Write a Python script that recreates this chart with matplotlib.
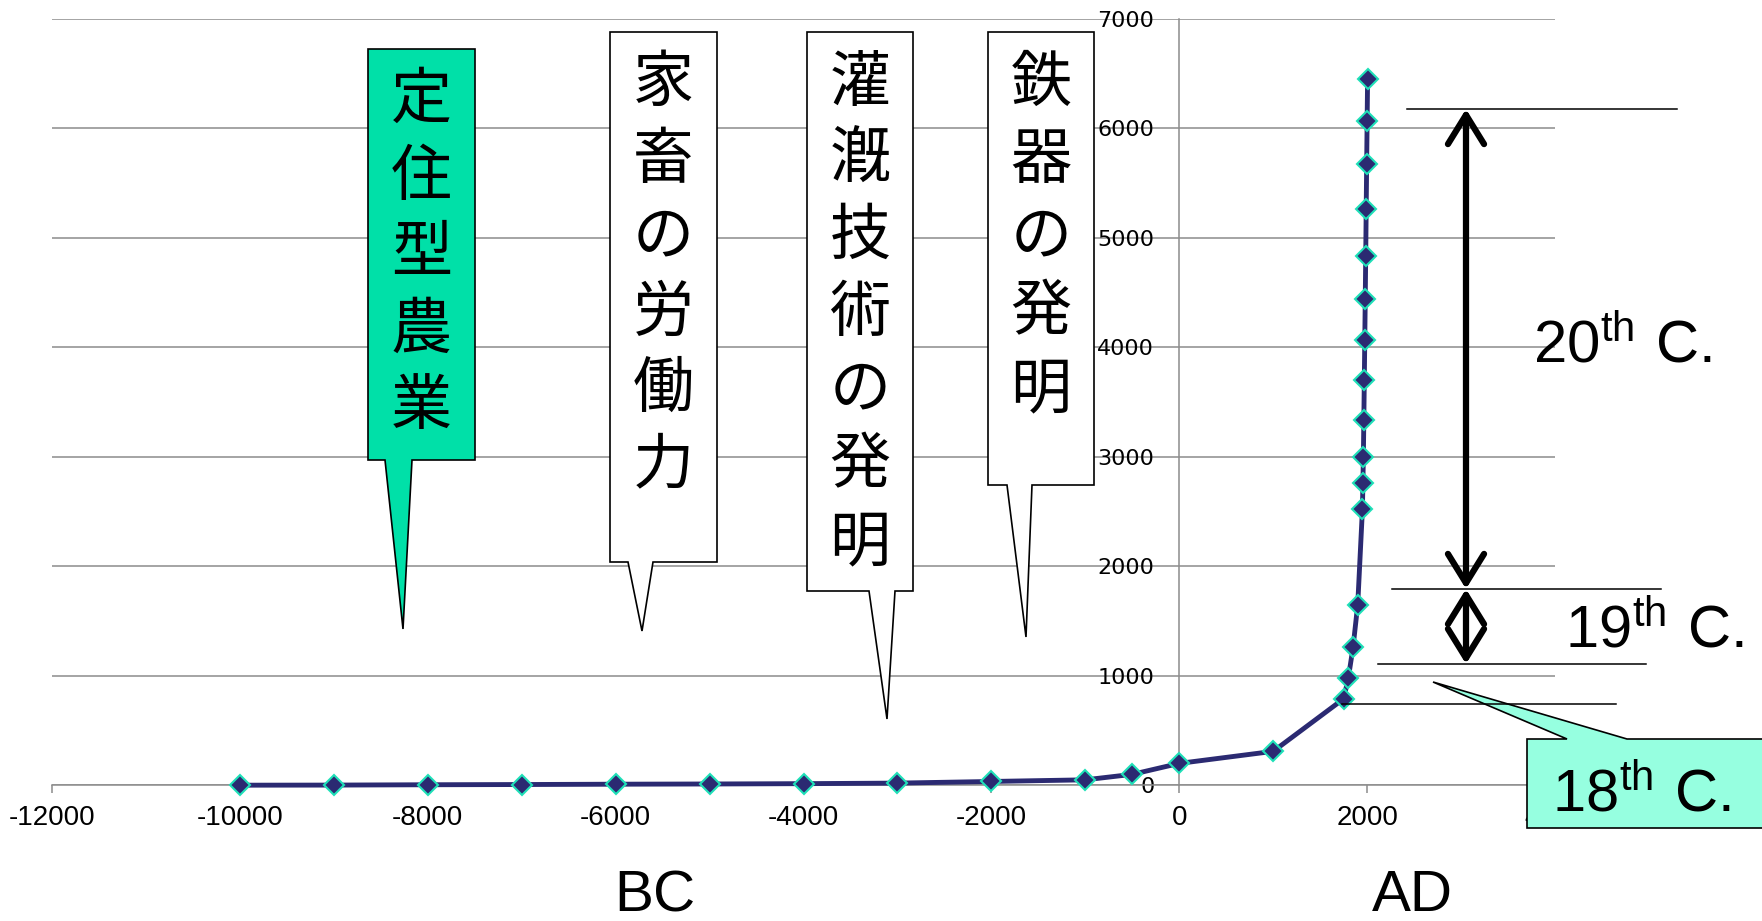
import numpy as np
import matplotlib
matplotlib.use("Agg")
import matplotlib.pyplot as plt
from matplotlib.patches import Polygon, FancyArrowPatch, ArrowStyle

plt.rcParams['font.family'] = ['Liberation Sans', 'Noto Sans CJK JP', 'DejaVu Sans']
plt.rcParams['mathtext.fontset'] = 'custom'
plt.rcParams['mathtext.rm'] = 'Liberation Sans'
plt.rcParams['axes.unicode_minus'] = False

# world population (millions) by year
years = [-10000, -9000, -8000, -7000, -6000, -5000, -4000, -3000, -2000, -1000,
         -500, 0, 1000, 1750, 1800, 1850, 1900, 1950, 1955, 1960, 1965, 1970,
         1975, 1980, 1985, 1990, 1995, 2000, 2005]
population = [1, 2, 5, 7, 10, 12, 15, 20, 35, 50,
              100, 200, 310, 790, 980, 1260, 1650, 2520, 2760, 3000, 3340, 3700,
              4070, 4440, 4830, 5260, 5670, 6070, 6450]

x_ticks = list(range(-12000, 4001, 2000))
y_ticks = list(range(0, 7001, 1000))

events = ['定住型農業', '家畜の労働力', '灌漑技術の発明', '鉄器の発明']
centuries = ['20', '19', '18']
eras = ['BC', 'AD']

W, H = 1762, 921
fig = plt.figure(figsize=(W / 100, H / 100), dpi=100)
ax = fig.add_axes([52 / W, (H - 785.3) / H, 1503 / W, 766.5 / H])

grey = '#8c8c8c'
ax.plot(years, population, color='#2b2a72', lw=3.5, marker='D', ms=10,
        mfc='#2b2a72', mec='#1fe0b8', mew=1.5, zorder=3, clip_on=False)
ax.set_xlim(-12000, 4000)
ax.set_ylim(0, 7000)
ax.set_xticks(x_ticks)
ax.set_yticks(y_ticks)
ax.grid(axis='y', color=grey, lw=1.1)
ax.set_axisbelow(True)
for s in ['top', 'right']:
    ax.spines[s].set_visible(False)
ax.spines['left'].set_position(('data', 0))
for s in ['left', 'bottom']:
    ax.spines[s].set_color(grey)
    ax.spines[s].set_linewidth(1.1)
ax.tick_params(axis='x', direction='out', length=6, width=1.1, color=grey,
               pad=8, labelsize=20)
ax.tick_params(axis='y', length=0, pad=18, labelsize=16)
for lab in ax.get_yticklabels():
    lab.set_family('DejaVu Sans')

# annotation layer in pixel coordinates (origin top-left)
ov = fig.add_axes([0, 0, 1, 1])
ov.set_xlim(0, W)
ov.set_ylim(H, 0)
ov.axis('off')

# box (x0, y0, x1, y1), pointer base (left, right), pointer tip, fill
boxes = [
    ((368, 49, 475, 460), (385, 412), (403, 629), '#00e0a8'),
    ((610, 32, 717, 562), (628, 653), (642, 631), 'white'),
    ((807, 32, 913, 591), (869, 895), (887, 719), 'white'),
    ((988, 32, 1094, 485), (1007, 1032), (1026, 637), 'white'),
]
for text, ((x0, y0, x1, y1), (b0, b1), tip, fc) in zip(events, boxes):
    pts = [(x0, y0), (x1, y0), (x1, y1), (b1, y1), tip, (b0, y1), (x0, y1)]
    ov.add_patch(Polygon(pts, closed=True, fc=fc, ec='black', lw=1.2,
                         joinstyle='miter'))
    cx = (x0 + x1) / 2
    for i, ch in enumerate(text):
        ov.text(cx, y0 + 52 + i * 76.5, ch, fontsize=44,
                family=['Noto Sans CJK JP'], ha='center', va='center')

# century markers
for xs, y in [((1407, 1677), 109), ((1392, 1661), 589),
              ((1378, 1646), 664), ((1342, 1616), 704)]:
    ov.plot(xs, [y, y], color='black', lw=1.1)

style = ArrowStyle('<->', head_length=21, head_width=13)
for ya, yb in [(109, 589), (589, 664)]:
    ov.add_patch(FancyArrowPatch((1466, ya), (1466, yb), arrowstyle=style,
                                 mutation_scale=1, lw=4.5, color='black',
                                 shrinkA=0, shrinkB=0))

ov.add_patch(Polygon([(1527, 739), (1567, 739), (1433, 682), (1627, 739),
                      (1775, 739), (1775, 828), (1527, 828)], closed=True,
                     fc='#96ffe0', ec='black', lw=1.2, clip_on=False))

for c, (x, y) in zip(centuries, [(1533, 363), (1565, 648), (1552, 812)]):
    ov.text(x, y, r'$\mathrm{' + c + r'^{th}\ C.}$', fontsize=43,
            ha='left', va='baseline')

for e, x in zip(eras, [655, 1412]):
    ov.text(x, 896, e, fontsize=42, ha='center', va='center')

fig.savefig('out.png', dpi=100)
